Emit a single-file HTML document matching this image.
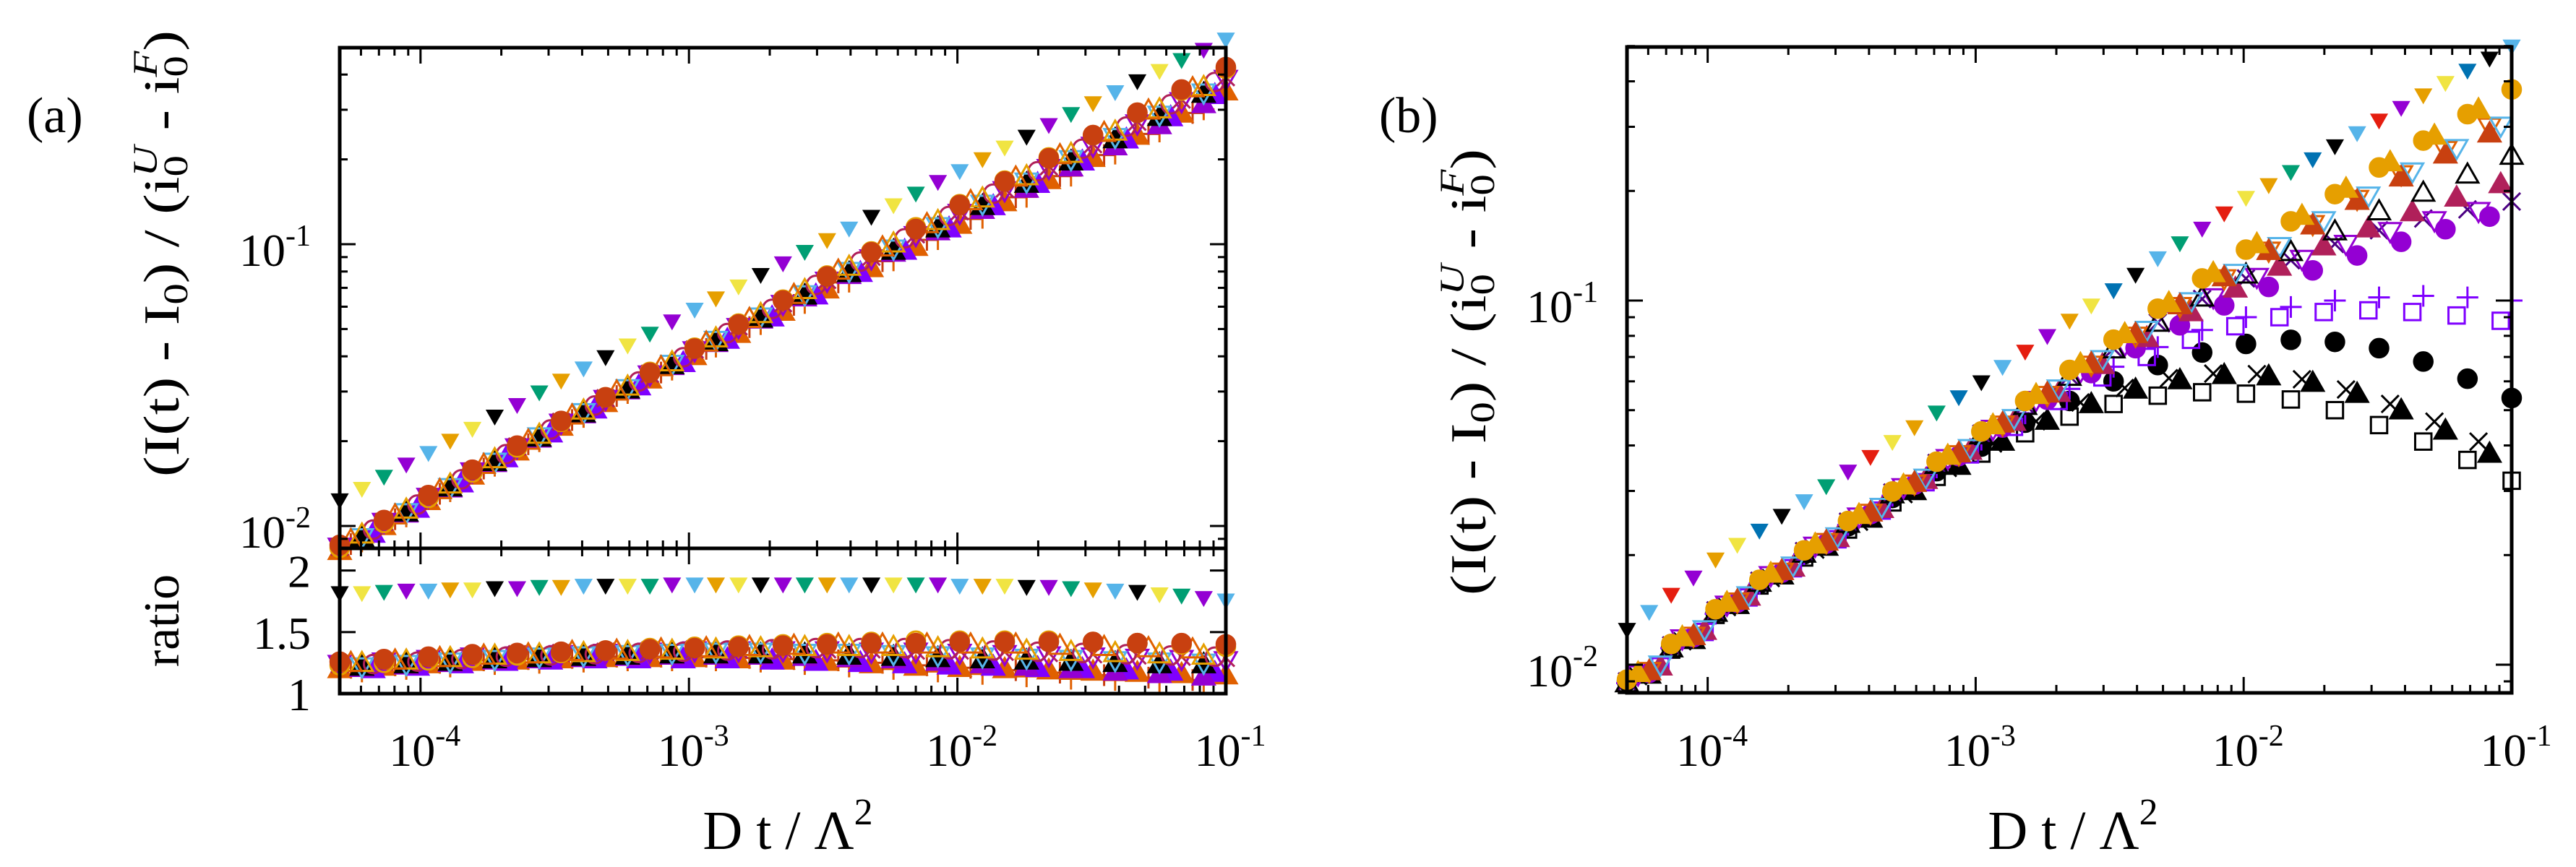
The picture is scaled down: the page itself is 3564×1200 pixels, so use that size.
<!DOCTYPE html>
<html><head><meta charset="utf-8"><style>
html,body{margin:0;padding:0;background:#fff;}
svg{display:block;font-family:"Liberation Serif",serif;}
</style></head><body>
<svg id="fig" width="3564" height="1200" viewBox="0 0 3564 1200" xmlns="http://www.w3.org/2000/svg">
<rect x="0" y="0" width="3564" height="1200" fill="#fff"/>
<g id="layerA"></g>
<g id="layerB"></g>
<text x="37" y="183" font-size="70">(a)</text>
<text x="1908" y="183" font-size="70">(b)</text>
<text transform="translate(247,351) rotate(-90)" text-anchor="middle" font-size="70" textLength="618" lengthAdjust="spacingAndGlyphs">(I(t) - I<tspan font-size="48" dy="12">0</tspan><tspan dy="-12">) / (i</tspan><tspan font-size="48" dy="12">0</tspan><tspan font-size="48" font-style="italic" dx="-24" dy="-42">U</tspan><tspan dy="30"> - i</tspan><tspan font-size="48" dy="12">0</tspan><tspan font-size="48" font-style="italic" dx="-24" dy="-42">F</tspan><tspan dy="30">)</tspan></text>
<text transform="translate(247,859) rotate(-90)" text-anchor="middle" font-size="70">ratio</text>
<text transform="translate(2055,515) rotate(-90)" text-anchor="middle" font-size="70" textLength="618" lengthAdjust="spacingAndGlyphs">(I(t) - I<tspan font-size="48" dy="12">0</tspan><tspan dy="-12">) / (i</tspan><tspan font-size="48" dy="12">0</tspan><tspan font-size="48" font-style="italic" dx="-24" dy="-42">U</tspan><tspan dy="30"> - i</tspan><tspan font-size="48" dy="12">0</tspan><tspan font-size="48" font-style="italic" dx="-24" dy="-42">F</tspan><tspan dy="30">)</tspan></text>
<text x="1090" y="1175" text-anchor="middle" font-size="76">D t / Λ<tspan font-size="52" dy="-34">2</tspan></text>
<text x="2868" y="1175" text-anchor="middle" font-size="76">D t / Λ<tspan font-size="52" dy="-34">2</tspan></text>
</svg>
<script>
// ---------- data ----------
const xGridA = [5.0e-5,7.31e-5,1.07e-4,1.56e-4,2.29e-4,3.34e-4,4.89e-4,7.15e-4,1.05e-3,1.53e-3,2.24e-3,3.27e-3,4.78e-3,7.0e-3,1.02e-2,1.5e-2,2.19e-2,3.2e-2,4.68e-2,6.84e-2,1.0e-1];
const xGridB = [6.05e-5,8.85e-5,1.29e-4,1.89e-4,2.77e-4,4.05e-4,5.91e-4,8.65e-4,1.26e-3,1.85e-3,2.70e-3,3.95e-3,5.78e-3,8.46e-3,1.24e-2,1.81e-2,2.65e-2,3.87e-2,5.66e-2,8.27e-2];
const xGridC = [5.5e-5,8.04e-5,1.18e-4,1.72e-4,2.52e-4,3.67e-4,5.38e-4,7.87e-4,1.16e-3,1.68e-3,2.46e-3,3.60e-3,5.26e-3,7.7e-3,1.12e-2,1.65e-2,2.41e-2,3.52e-2,5.15e-2,7.52e-2];
const xGridD = [6.66e-5,9.74e-5,1.42e-4,2.08e-4,3.05e-4,4.46e-4,6.5e-4,9.52e-4,1.39e-3,2.04e-3,2.97e-3,4.35e-3,6.36e-3,9.31e-3,1.36e-2,1.99e-2,2.92e-2,4.26e-2,6.23e-2,9.1e-2];
// reference curve (panel a), defined on grid A
const refA = [0.0068,0.0082,0.0099,0.0120,0.0145,0.0176,0.0212,0.0257,0.0311,0.0376,0.0454,0.0549,0.0664,0.0803,0.0970,0.1176,0.1421,0.1717,0.2077,0.2510,0.3036];
// panel (a) ratio values
const ratioUpperA = [1.82,1.83,1.84,1.85,1.86,1.87,1.88,1.88,1.89,1.89,1.89,1.89,1.89,1.89,1.88,1.88,1.87,1.85,1.83,1.80,1.76];
const ratioUpperB = [1.82,1.84,1.85,1.86,1.87,1.88,1.88,1.89,1.89,1.89,1.89,1.89,1.89,1.89,1.88,1.87,1.86,1.84,1.81,1.78];
const ratioS1 = [1.26,1.28,1.30,1.32,1.33,1.34,1.35,1.36,1.37,1.38,1.39,1.40,1.41,1.41,1.42,1.42,1.42,1.42,1.41,1.41,1.40];
const ratioS2 = [1.25,1.27,1.29,1.31,1.32,1.33,1.34,1.35,1.36,1.37,1.38,1.38,1.38,1.37,1.36,1.35,1.34,1.33,1.32,1.31];
const ratioS3 = [1.24,1.26,1.28,1.30,1.31,1.32,1.33,1.34,1.35,1.35,1.35,1.35,1.34,1.34,1.33,1.32,1.31,1.30,1.29,1.28,1.27];
const ratioS4 = [1.22,1.24,1.26,1.28,1.29,1.30,1.31,1.32,1.32,1.32,1.32,1.31,1.30,1.29,1.28,1.27,1.26,1.25,1.24,1.24];
const ratioS5 = [1.20,1.22,1.24,1.26,1.27,1.28,1.29,1.29,1.29,1.28,1.27,1.26,1.24,1.22,1.21,1.20,1.19,1.18,1.17,1.16,1.15];
const ratioS6 = [1.18,1.20,1.22,1.24,1.25,1.26,1.27,1.27,1.27,1.26,1.24,1.22,1.20,1.18,1.16,1.14,1.12,1.11,1.10,1.09];
const ratioS7 = [1.23,1.25,1.27,1.29,1.31,1.33,1.35,1.37,1.38,1.39,1.40,1.41,1.42,1.43,1.43,1.43,1.43,1.42,1.41,1.40,1.38];
const ratioS8 = [1.21,1.23,1.25,1.27,1.28,1.29,1.30,1.31,1.31,1.31,1.30,1.29,1.28,1.26,1.24,1.22,1.20,1.18,1.16,1.14];
const ratioS9 = [1.24,1.26,1.28,1.30,1.32,1.33,1.34,1.35,1.36,1.36,1.36,1.36,1.36,1.35,1.35,1.34,1.33,1.32,1.31,1.30,1.29];
const ratioS10 = [1.22,1.24,1.26,1.28,1.30,1.31,1.32,1.33,1.34,1.34,1.33,1.33,1.32,1.31,1.30,1.29,1.28,1.27,1.26,1.25];
const ratioC1 = [1.25,1.27,1.29,1.31,1.32,1.34,1.35,1.36,1.37,1.38,1.39,1.40,1.40,1.40,1.40,1.40,1.39,1.38,1.37,1.36];
const ratioC2 = [1.21,1.23,1.25,1.27,1.28,1.29,1.30,1.30,1.30,1.29,1.28,1.27,1.25,1.23,1.21,1.19,1.17,1.15,1.13,1.11];
const ratioD1 = [1.24,1.26,1.28,1.30,1.31,1.32,1.33,1.34,1.35,1.36,1.37,1.37,1.37,1.36,1.35,1.34,1.33,1.32,1.31,1.30];
const ratioD2 = [1.20,1.22,1.24,1.26,1.27,1.28,1.28,1.28,1.28,1.27,1.26,1.25,1.24,1.23,1.22,1.21,1.20,1.19,1.18,1.17];
// panel (b) values
const bUpperA = [0.0125,0.0156,0.0195,0.0234,0.0282,0.0340,0.0410,0.0494,0.0598,0.0726,0.0883,0.107,0.131,0.158,0.192,0.226,0.266,0.313,0.367,0.429,0.50];
const bUpperB = [0.0140,0.0174,0.0214,0.0257,0.0310,0.0373,0.0450,0.0544,0.0659,0.0801,0.0972,0.118,0.144,0.174,0.208,0.245,0.289,0.339,0.397,0.463];
const bb1 = [0.0091,0.0114,0.0142,0.0171,0.0206,0.0248,0.0299,0.0361,0.0437,0.0530,0.0645,0.0781,0.0950,0.115,0.138,0.165,0.196,0.232,0.275,0.325,0.38];
const bb2 = [0.0096,0.0120,0.0150,0.0181,0.0218,0.0262,0.0316,0.0381,0.0460,0.0556,0.0672,0.0810,0.0972,0.116,0.137,0.161,0.188,0.218,0.252,0.288];
const bb3 = [0.0089,0.0111,0.0139,0.0168,0.0202,0.0244,0.0294,0.0354,0.0427,0.0514,0.0618,0.0735,0.0870,0.102,0.118,0.136,0.155,0.176,0.198,0.222,0.25];
const bb4 = [0.0095,0.0119,0.0148,0.0179,0.0215,0.0259,0.0312,0.0374,0.0448,0.0534,0.0632,0.0740,0.0855,0.097,0.109,0.121,0.133,0.145,0.157,0.170];
const bb5 = [0.0089,0.0111,0.0138,0.0167,0.0201,0.0242,0.0291,0.0348,0.0415,0.0490,0.0572,0.0658,0.0745,0.083,0.090,0.096,0.100,0.102,0.103,0.102,0.100];
const bb6 = [0.0094,0.0117,0.0146,0.0176,0.0211,0.0252,0.0300,0.0352,0.0410,0.0468,0.0520,0.0570,0.0605,0.0625,0.0620,0.0595,0.0555,0.0500,0.0440,0.0380];
const bb7 = [0.0090,0.0112,0.0139,0.0167,0.0201,0.0240,0.0287,0.0340,0.0397,0.0462,0.0530,0.0600,0.0665,0.072,0.076,0.078,0.077,0.074,0.068,0.061,0.054];
const bb8 = [0.0096,0.0120,0.0149,0.0180,0.0217,0.0261,0.0314,0.0378,0.0456,0.0550,0.0666,0.0800,0.0965,0.115,0.137,0.162,0.190,0.222,0.259,0.300];
const bb9 = [0.0088,0.0110,0.0137,0.0165,0.0197,0.0235,0.0279,0.0328,0.0380,0.0432,0.0480,0.0520,0.0548,0.0560,0.0555,0.0535,0.0500,0.0455,0.0410,0.0365,0.032];
const bb10 = [0.0090,0.0113,0.0141,0.0170,0.0205,0.0247,0.0297,0.0358,0.0431,0.0518,0.0620,0.0738,0.0870,0.101,0.115,0.129,0.143,0.156,0.168,0.178,0.187];
const bc1 = [0.0095,0.0119,0.0148,0.0178,0.0214,0.0258,0.0311,0.0375,0.0455,0.0551,0.0670,0.0810,0.0985,0.119,0.143,0.171,0.203,0.240,0.284,0.335];
const bc2 = [0.0094,0.0118,0.0146,0.0176,0.0212,0.0255,0.0307,0.0369,0.0444,0.0533,0.0638,0.0755,0.0885,0.102,0.116,0.130,0.143,0.155,0.166,0.176];
const bc3 = [0.0093,0.0116,0.0144,0.0173,0.0207,0.0247,0.0294,0.0347,0.0405,0.0466,0.0525,0.0575,0.0612,0.0630,0.0628,0.0608,0.0570,0.0520,0.0465,0.0410];
const bd1 = [0.0100,0.0125,0.0155,0.0187,0.0225,0.0271,0.0326,0.0393,0.0475,0.0573,0.0690,0.0830,0.0995,0.119,0.141,0.166,0.194,0.226,0.262,0.302];
const bd2 = [0.0099,0.0124,0.0154,0.0185,0.0223,0.0268,0.0322,0.0387,0.0465,0.0558,0.0666,0.0790,0.0930,0.108,0.124,0.141,0.158,0.175,0.192,0.209];
const bd3 = [0.0099,0.0123,0.0153,0.0184,0.0221,0.0265,0.0317,0.0378,0.0450,0.0530,0.0615,0.0700,0.0780,0.085,0.090,0.093,0.094,0.093,0.091,0.088];
const xTickLabels = ["-4","-3","-2","-1"];
const yTickLabels = ["-2","-1"];
const ratioTickLabels = ["1","1.5","2"];

// ---------- helpers ----------
const NS = "http://www.w3.org/2000/svg";
function mk(tag, attrs, parent){const e=document.createElementNS(NS,tag);for(const k in attrs)e.setAttribute(k,attrs[k]);parent.appendChild(e);return e;}
const L10 = Math.log10;
function logScale(d0,d1,p0,p1){return v=>p0+(L10(v)-L10(d0))/(L10(d1)-L10(d0))*(p1-p0);}
function linScale(d0,d1,p0,p1){return v=>p0+(v-d0)/(d1-d0)*(p1-p0);}
function refAt(x){ // log-log lookup in the reference curve
  const lx=L10(x);
  for(let i=0;i<xGridA.length-1;i++){
    const a=L10(xGridA[i]), b=L10(xGridA[i+1]);
    if(lx<=b||i===xGridA.length-2){const t=(lx-a)/(b-a);return Math.pow(10,L10(refA[i])+t*(L10(refA[i+1])-L10(refA[i])));}
  }
  return refA[refA.length-1];
}
const grids={A:xGridA,B:xGridB,C:xGridC,D:xGridD};

const K='#000000',P='#9400d3',O='#e69f00',DO='#e06000',RB='#c84010',CR='#b0205a',SB='#56b4e9',Y='#f0e442',G='#009e73',BL='#0072b2',RD='#e51e10',V='#7f00ff',IN='#4b0082';

function marker(parent, shape, cx, cy, col, s){
  let e; const sw=3;
  if(shape==='tri'||shape==='triO'){const f=shape==='tri';e=mk('polygon',{points:`${cx},${cy-s} ${cx-s},${cy+s*0.75} ${cx+s},${cy+s*0.75}`,fill:f?col:'none',stroke:col,'stroke-width':sw},parent);}
  else if(shape==='tdn'||shape==='tdnO'){const f=shape==='tdn';e=mk('polygon',{points:`${cx},${cy+s} ${cx-s},${cy-s*0.75} ${cx+s},${cy-s*0.75}`,fill:f?col:'none',stroke:col,'stroke-width':sw},parent);}
  else if(shape==='circ'||shape==='circO'){const f=shape==='circ';e=mk('circle',{cx:cx,cy:cy,r:s*0.85,fill:f?col:'none',stroke:col,'stroke-width':sw},parent);}
  else if(shape==='sqO'||shape==='sq'){const f=shape==='sq';e=mk('rect',{x:cx-s*0.75,y:cy-s*0.75,width:s*1.5,height:s*1.5,fill:f?col:'none',stroke:col,'stroke-width':sw},parent);}
  else if(shape==='plus'){e=mk('path',{d:`M${cx-s} ${cy}H${cx+s}M${cx} ${cy-s}V${cy+s}`,stroke:col,'stroke-width':sw,fill:'none'},parent);}
  else {e=mk('path',{d:`M${cx-s*0.8} ${cy-s*0.8}L${cx+s*0.8} ${cy+s*0.8}M${cx-s*0.8} ${cy+s*0.8}L${cx+s*0.8} ${cy-s*0.8}`,stroke:col,'stroke-width':sw,fill:'none'},parent);}
  return e;
}

function tickLabel(parent, x, y, exp, anchor){
  const t=mk('text',{x:x,y:y,'text-anchor':anchor,'font-size':64},parent);
  t.appendChild(document.createTextNode('10'));
  const s=mk('tspan',{'font-size':42,dy:-28},t); s.textContent=exp;
  return t;
}

function drawLogXTicks(g, xs, yTop, yBot, withLabels, labelY){
  for(let d=-5; d<=-1; d++){
    for(let m=1;m<=9;m++){
      const v=m*Math.pow(10,d); if(v<5e-5*0.999||v>0.1*1.001) continue;
      const x=xs(v); const len=(m===1)?22:11;
      const t1=mk('line',{x1:x,y1:yBot,x2:x,y2:yBot-len,stroke:'#000','stroke-width':3},g);
      
      
      if(yTop!==null){const t2=mk('line',{x1:x,y1:yTop,x2:x,y2:yTop+len,stroke:'#000','stroke-width':3},g);
        
        }
    }
  }
  if(withLabels){
    xTickLabels.forEach(lab=>{
      const v=Math.pow(10,parseInt(lab,10));
      const t=tickLabel(g, xs(v)+6, labelY, lab, 'middle');
      
      
    });
  }
}

function drawLogYTicks(g, ys, x0, x1, dmin, dmax){
  for(let d=-3; d<=0; d++){
    for(let m=1;m<=9;m++){
      const v=m*Math.pow(10,d); if(v<dmin||v>dmax) continue;
      const y=ys(v); const len=(m===1)?22:11;
      const a=mk('line',{x1:x0,y1:y,x2:x0+len,y2:y,stroke:'#000','stroke-width':3},g);
      
      
      const b=mk('line',{x1:x1,y1:y,x2:x1-len,y2:y,stroke:'#000','stroke-width':3},g);
      
      
    }
  }
  yTickLabels.forEach(lab=>{
    const v=Math.pow(10,parseInt(lab,10));
    const t=tickLabel(g, x0-40, ys(v)+30, lab, 'end');
    
    
  });
}

function frame(g,x0,y0,x1,y1,name){
  const r=mk('rect',{x:x0,y:y0,width:x1-x0,height:y1-y0,fill:'none',stroke:'#000','stroke-width':5},g);
  
  
}

function drawSeries(g, xsArr, ysArr, xs, ys, shape, colors, size, name){
  const sg=mk('g',{},g);
  
  
  for(let i=0;i<ysArr.length && i<xsArr.length;i++){
    const col=colors[i%colors.length];
    const m=marker(sg, shape, xs(xsArr[i]), ys(ysArr[i]), col, size);
    
    
  }
}

// ---------- panel (a) ----------
(function(){
  const g=document.getElementById('layerA');
  const X0=470,X1=1696,YT=66,YS=759,YB=960;
  const xs=logScale(5e-5,0.1,X0,X1);
  const ys=v=>YS-(L10(v)-(-2.0795))/((-0.3026)-(-2.0795))*(YS-YT);
  const yr=linScale(1,2.18,YB,YS);
  const band=[
    {r:ratioS6,grid:'B',shape:'plus',c:[DO],n:'series-a6'},
    {r:ratioC2,grid:'C',shape:'plus',c:[RB],n:'series-a12'},
    {r:ratioS5,grid:'A',shape:'tri',c:[DO],n:'series-a5'},
    {r:ratioD2,grid:'D',shape:'tri',c:[V],n:'series-a14'},
    {r:ratioS8,grid:'B',shape:'tri',c:[P],n:'series-a8'},
    {r:ratioS4,grid:'B',shape:'tri',c:[K],n:'series-a4'},
    {r:ratioS3,grid:'A',shape:'tdnO',c:[P],n:'series-a3'},
    {r:ratioS10,grid:'B',shape:'tdnO',c:[SB],n:'series-a10'},
    {r:ratioD1,grid:'D',shape:'circO',c:[CR],n:'series-a13'},
    {r:ratioS9,grid:'A',shape:'x',c:[CR],n:'series-a9'},
    {r:ratioS2,grid:'B',shape:'triO',c:[O],n:'series-a2'},
    {r:ratioC1,grid:'C',shape:'triO',c:[DO],n:'series-a11'},
    {r:ratioS7,grid:'A',shape:'circO',c:[O],n:'series-a7'},
    {r:ratioS1,grid:'A',shape:'circ',c:[RB],n:'series-a1'}
  ];
  const upper=[
    {r:ratioUpperA,grid:'A',shape:'tdn',c:[K,G,SB,Y,P,O],n:'series-a-upper-1'},
    {r:ratioUpperB,grid:'B',shape:'tdn',c:[Y,P,O,K,G,SB],n:'series-a-upper-2'}
  ];
  band.concat(upper).forEach(s=>{
    const xg=grids[s.grid];
    const vals=s.r.map((r,i)=>r*refAt(xg[i]));
    const sz=s.shape==='tdn'?10:15;
    drawSeries(g,xg,vals,xs,ys,s.shape,s.c,sz,s.n+'-main');
    drawSeries(g,xg,s.r,xs,yr,s.shape,s.c,sz,s.n+'-ratio');
  });
  frame(g,X0,YT,X1,YS,'panel-a-main-frame');
  frame(g,X0,YS,X1,YB,'panel-a-ratio-frame');
  drawLogXTicks(g,xs,YT,YS,false,0);
  drawLogXTicks(g,xs,YS,YB,true,1060);
  drawLogYTicks(g,ys,X0,X1,0.0083,0.5);
  ratioTickLabels.forEach(lab=>{
    const v=parseFloat(lab); const y=yr(v);
    if(v>1){
      const a=mk('line',{x1:X0,y1:y,x2:X0+22,y2:y,stroke:'#000','stroke-width':3},g);
      
      
      const b=mk('line',{x1:X1,y1:y,x2:X1-22,y2:y,stroke:'#000','stroke-width':3},g);
      
      
    }
    const t=mk('text',{x:X0-40,y:y+23,'text-anchor':'end','font-size':64},g);
    t.textContent=lab;
    
    
  });
})();

// ---------- panel (b) ----------
(function(){
  const g=document.getElementById('layerB');
  const X0=2251,X1=3475,YT=65,YB=959;
  const xs=logScale(5e-5,0.1,X0,X1);
  const ys=v=>YB-(L10(v)-(-2.0774))/((-0.3036)-(-2.0774))*(YB-YT);
  const series=[
    {v:bb9,grid:'A',shape:'sqO',c:[K],n:'series-b9'},
    {v:bc3,grid:'C',shape:'x',c:[K],n:'series-b13'},
    {v:bb6,grid:'B',shape:'tri',c:[K],n:'series-b6'},
    {v:bb7,grid:'A',shape:'circ',c:[K],n:'series-b7'},
    {v:bd3,grid:'D',shape:'sqO',c:[V],n:'series-b16'},
    {v:bb5,grid:'A',shape:'plus',c:[V],n:'series-b5'},
    {v:bb10,grid:'A',shape:'x',c:[IN],n:'series-b10'},
    {v:bc2,grid:'C',shape:'tdnO',c:[P],n:'series-b12'},
    {v:bb4,grid:'B',shape:'circ',c:[P],n:'series-b4'},
    {v:bd2,grid:'D',shape:'tri',c:[CR],n:'series-b15'},
    {v:bb3,grid:'A',shape:'triO',c:[K],n:'series-b3'},
    {v:bb8,grid:'B',shape:'tdnO',c:[DO],n:'series-b8'},
    {v:bd1,grid:'D',shape:'tdnO',c:[SB],n:'series-b14'},
    {v:bb2,grid:'B',shape:'tri',c:[RB],n:'series-b2'},
    {v:bc1,grid:'C',shape:'tri',c:[O],n:'series-b11'},
    {v:bb1,grid:'A',shape:'circ',c:[O],n:'series-b1'},
    {v:bUpperA,grid:'A',shape:'tdn',c:[K,RD,O,BL,SB,P,Y,G],n:'series-b-upper-1'},
    {v:bUpperB,grid:'B',shape:'tdn',c:[SB,P,Y,K,G,RD,O,BL],n:'series-b-upper-2'}
  ];
  series.forEach(s=>{
    drawSeries(g,grids[s.grid],s.v,xs,ys,s.shape,s.c,s.shape==='tdn'?10:15,s.n);
  });
  frame(g,X0,YT,X1,YB,'panel-b-frame');
  drawLogXTicks(g,xs,YT,YB,true,1060);
  drawLogYTicks(g,ys,X0,X1,0.0085,0.5);
})();
</script>
</body></html>
